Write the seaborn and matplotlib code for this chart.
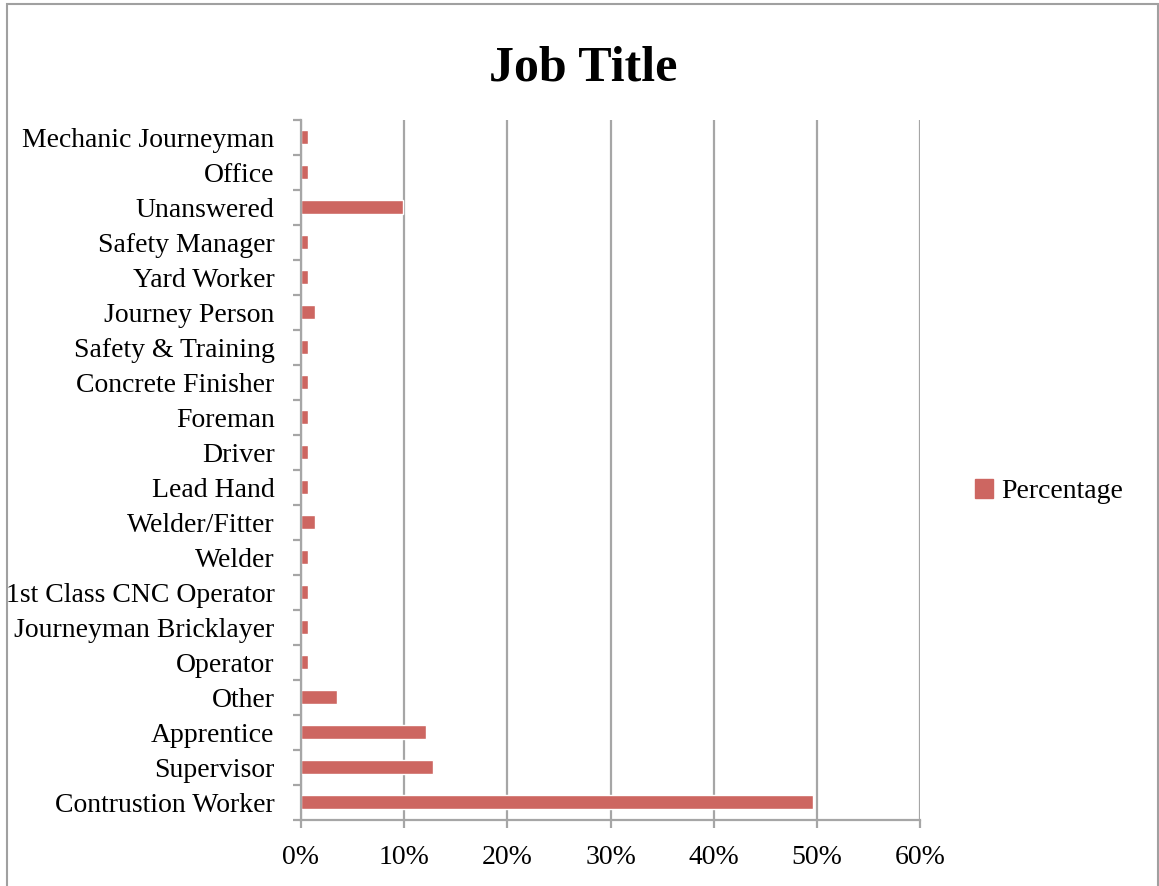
import matplotlib
matplotlib.use("Agg")
import matplotlib.pyplot as plt
import matplotlib.ticker as mticker
import matplotlib.patches as mpatches
import seaborn as sns
import pandas as pd
import numpy as np

# Job titles, listed from top to bottom of the chart
job_titles = [
    "Mechanic Journeyman", "Office", "Unanswered", "Safety Manager",
    "Yard Worker", "Journey Person", "Safety & Training", "Concrete Finisher",
    "Foreman", "Driver", "Lead Hand", "Welder/Fitter", "Welder",
    "1st Class CNC Operator", "Journeyman Bricklayer", "Operator", "Other",
    "Apprentice", "Supervisor", "Contrustion Worker",
]
# Share of respondents (%)
percentages = [
    0.7, 0.7, 9.9, 0.7,
    0.7, 1.4, 0.7, 0.7,
    0.7, 0.7, 0.7, 1.4, 0.7,
    0.7, 0.7, 0.7, 3.5,
    12.1, 12.8, 49.6,
]
x_ticks = [0, 10, 20, 30, 40, 50, 60]

df = pd.DataFrame({"Job Title": job_titles, "Percentage": percentages})

sns.set_theme(style="white")
plt.rcParams["font.family"] = ["Liberation Serif", "DejaVu Serif"]
plt.rcParams["text.color"] = "black"

bar_color = "#CD6661"
grid_color = "#A6A6A6"

fig = plt.figure(figsize=(11.59, 8.86), dpi=100)
ax = fig.add_axes([0.2597, 0.0745, 0.5341, 0.7901])

sns.barplot(data=df, x="Percentage", y="Job Title", order=job_titles,
            color=bar_color, saturation=1, width=0.4, ax=ax)

ax.set_xlim(0, 60)
ax.set_ylim(len(job_titles) - 0.5, -0.5)
ax.set_xticks(x_ticks)
ax.xaxis.set_major_formatter(mticker.FuncFormatter(lambda v, p: f"{v:.0f}%"))
ax.set_xlabel("")
ax.set_ylabel("")

# vertical gridlines
ax.grid(axis="x", color=grid_color, linewidth=1.6)
ax.set_axisbelow(True)

for side in ["top", "right"]:
    ax.spines[side].set_visible(False)
for side in ["left", "bottom"]:
    ax.spines[side].set_color(grid_color)
    ax.spines[side].set_linewidth(1.6)

# category labels sit on major ticks, boundary tick marks on minor ticks
ax.set_yticks(np.arange(-0.5, len(job_titles), 1.0), minor=True)
ax.tick_params(axis="y", which="major", length=0, pad=19, labelsize=20,
               labelcolor="black")
ax.tick_params(axis="y", which="minor", length=6, width=1.6, color=grid_color,
               direction="out", left=True)
ax.tick_params(axis="x", which="major", length=6, width=1.6, color=grid_color,
               direction="out", bottom=True, pad=12, labelsize=20,
               labelcolor="black")

fig.text(0.503, 0.923, "Job Title", ha="center", va="center",
         fontsize=36, fontweight="bold", color="black")

handle = mpatches.Patch(color=bar_color, label="Percentage")
fig.legend(handles=[handle], loc="center left", bbox_to_anchor=(0.841, 0.445),
           frameon=False, fontsize=20, handlelength=0.65, handleheight=0.65,
           handletextpad=0.3, borderpad=0, borderaxespad=0, labelcolor="black")

# outer chart frame (open at the bottom)
frame = mpatches.Rectangle((7 / 1159, -0.05), (1158 - 7) / 1159, 1.05 - 4.5 / 886,
                           transform=fig.transFigure, fill=False,
                           edgecolor="#A0A0A0", linewidth=1.5, clip_on=False)
fig.patches.append(frame)

fig.savefig("out.png", dpi=100)
